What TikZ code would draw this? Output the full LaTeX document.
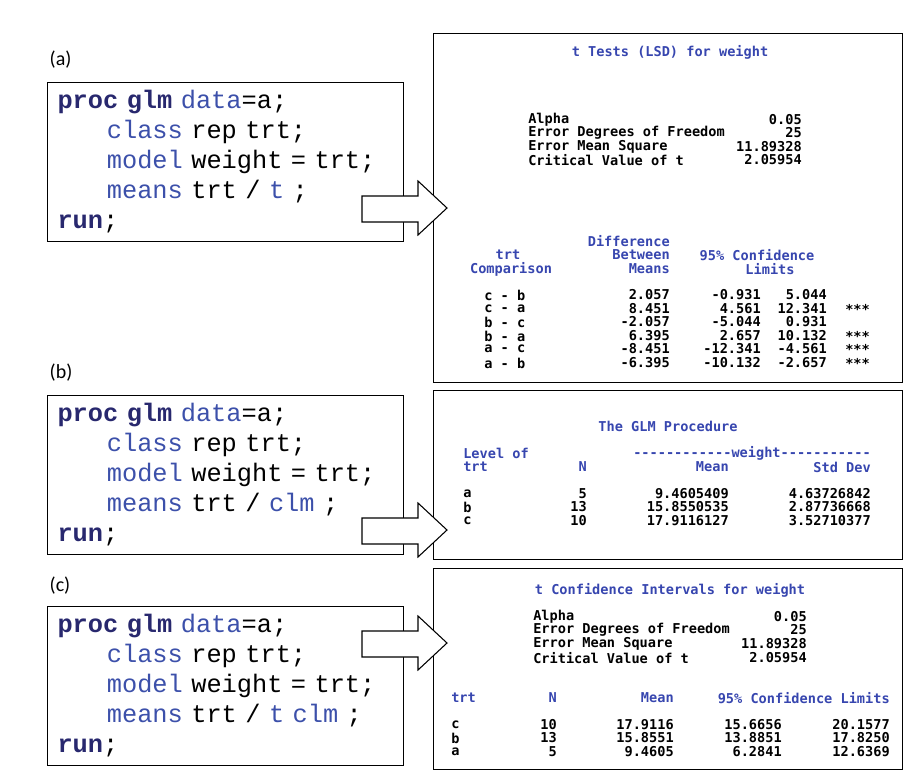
\documentclass[tikz,border=0pt]{standalone}
\usepackage{fontspec}
\setmainfont{Carlito}
\newfontfamily\codefont{Liberation Mono}
\newfontfamily\sasfont{DejaVu Sans Mono}
\definecolor{kwnavy}{RGB}{40,40,110}
\definecolor{kwblue}{RGB}{60,80,170}
\definecolor{sasblue}{RGB}{55,70,175}
\newcommand\kw[1]{{\bfseries\color{kwnavy}#1}}
\newcommand\st[1]{{\color{kwblue}#1}}
\newcommand\ind{\hspace*{37pt}}
% block arrow with its tip at (#1,#2)
\newcommand\pointer[2]{%
  \draw[thick, fill=white] (#1-85,#2-12) -- (#1-29,#2-12) -- (#1-29,#2-27) -- (#1,#2)
    -- (#1-29,#2+27) -- (#1-29,#2+14) -- (#1-85,#2+14) -- cycle;}

\begin{document}
\begin{tikzpicture}[
    x=0.75pt, y=-0.75pt,
    code/.style={draw, thick, anchor=north west, minimum width=267pt, minimum height=119pt,
      align=left, font=\codefont\fontsize{19}{22.5}\selectfont, inner xsep=7pt, text width=252pt},
    outbox/.style={draw, thick, anchor=north west},
    tag/.style={font=\fontsize{15}{18}\selectfont, anchor=west},
    hd/.style={font=\sasfont\bfseries\fontsize{10.2}{11}\selectfont, text=sasblue, inner sep=0pt},
    vl/.style={font=\sasfont\bfseries\fontsize{10.2}{11}\selectfont, inner sep=0pt}
  ]
  \useasboundingbox (0,0) rectangle (924,782);

  % code boxes
  \node[tag] (tagA) at (45,60) {(a)};
  \node[code] (codeA) at (47,82) {\kw{proc glm} \st{data}=a;\\ \ind\st{class} rep trt;\\ \ind\st{model} weight = trt;\\ \ind\st{means} trt / \st{t} ;\\ \kw{run};};
  \node[tag] (tagB) at (45,373) {(b)};
  \node[code] (codeB) at (47,395) {\kw{proc glm} \st{data}=a;\\ \ind\st{class} rep trt;\\ \ind\st{model} weight = trt;\\ \ind\st{means} trt / \st{clm} ;\\ \kw{run};};
  \node[tag] (tagC) at (45,586) {(c)};
  \node[code] (codeC) at (47,606) {\kw{proc glm} \st{data}=a;\\ \ind\st{class} rep trt;\\ \ind\st{model} weight = trt;\\ \ind\st{means} trt / \st{t clm} ;\\ \kw{run};};

  % output boxes
  \node[outbox, minimum width=352pt, minimum height=262pt] (outA) at (433,33) {};
  \node[outbox, minimum width=352pt, minimum height=127pt] (outB) at (433,390) {};
  \node[outbox, minimum width=352pt, minimum height=151pt] (outC) at (433,568) {};

  % pointers
  \pointer{447}{208}
  \pointer{447}{530}
  \pointer{447}{643}

  % (a) LSD output
  \node[hd] (titA) at (670,52) {t Tests (LSD) for weight};
  \foreach \t/\v/\y in {Alpha/0.05/120, Error Degrees of Freedom/25/133,
      Error Mean Square/11.89328/147, Critical Value of t/2.05954/160}{
    \node[vl, anchor=west] at (528,\y) {\t};
    \node[vl, anchor=east] at (802,\y) {\v};
  }
  \node[hd, anchor=east] at (670,241) {Difference};
  \node[hd] at (508,255) {trt};
  \node[hd, anchor=east] at (670,255) {Between};
  \node[hd] at (757,255) {95\% Confidence};
  \node[hd] at (511,269) {Comparison};
  \node[hd, anchor=east] at (670,269) {Means};
  \node[hd] at (770,269) {Limits};
  \foreach \c/\d/\lo/\hi/\s/\y in {c - b/2.057/-0.931/5.044//295, c - a/8.451/4.561/12.341/***/309,
      b - c/-2.057/-5.044/0.931//322, b - a/6.395/2.657/10.132/***/336,
      a - c/-8.451/-12.341/-4.561/***/349, a - b/-6.395/-10.132/-2.657/***/363}{
    \node[vl, anchor=west] at (484,\y) {\c};
    \node[vl, anchor=east] at (670,\y) {\d};
    \node[vl, anchor=east] at (761,\y) {\lo};
    \node[vl, anchor=east] at (827,\y) {\hi};
    \node[vl, anchor=west] at (845,\y) {\s};
  }

  % (b) clm output
  \node[hd] (titB) at (668,426) {The GLM Procedure};
  \node[hd, anchor=west] at (463,453) {Level of};
  \node[hd, anchor=east] at (871,453) {------------weight-----------};
  \node[hd, anchor=west] at (463,467) {trt};
  \node[hd, anchor=east] at (587,467) {N};
  \node[hd, anchor=east] at (729,467) {Mean};
  \node[hd, anchor=east] at (871,467) {Std Dev};
  \foreach \l/\n/\m/\s/\y in {a/5/9.4605409/4.63726842/494, b/13/15.8550535/2.87736668/507,
      c/10/17.9116127/3.52710377/521}{
    \node[vl, anchor=west] at (463,\y) {\l};
    \node[vl, anchor=east] at (587,\y) {\n};
    \node[vl, anchor=east] at (729,\y) {\m};
    \node[vl, anchor=east] at (871,\y) {\s};
  }

  % (c) t clm output
  \node[hd] (titC) at (670,590) {t Confidence Intervals for weight};
  \foreach \t/\v/\y in {Alpha/0.05/617, Error Degrees of Freedom/25/630,
      Error Mean Square/11.89328/644, Critical Value of t/2.05954/658}{
    \node[vl, anchor=west] at (533,\y) {\t};
    \node[vl, anchor=east] at (807,\y) {\v};
  }
  \node[hd, anchor=west] at (451,698) {trt};
  \node[hd, anchor=east] at (557,698) {N};
  \node[hd, anchor=east] at (674,698) {Mean};
  \node[hd, anchor=east] at (890,698) {95\% Confidence Limits};
  \foreach \l/\n/\m/\lo/\hi/\y in {c/10/17.9116/15.6656/20.1577/725, b/13/15.8551/13.8851/17.8250/738,
      a/5/9.4605/6.2841/12.6369/752}{
    \node[vl, anchor=west] at (451,\y) {\l};
    \node[vl, anchor=east] at (557,\y) {\n};
    \node[vl, anchor=east] at (674,\y) {\m};
    \node[vl, anchor=east] at (782,\y) {\lo};
    \node[vl, anchor=east] at (890,\y) {\hi};
  }
\end{tikzpicture}
\end{document}
